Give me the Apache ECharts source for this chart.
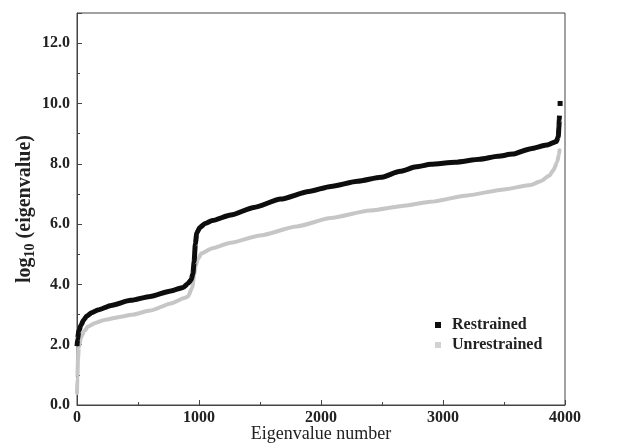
<!DOCTYPE html>
<html>
<head>
<meta charset="utf-8">
<script src="https://cdn.jsdelivr.net/npm/echarts@6/dist/echarts.min.js"></script>
<style>
html,body{margin:0;padding:0;background:#fff;}
#chart{width:641px;height:448px;}
</style>
</head>
<body>
<div id="chart"></div>
<script>
// Eigenvalue number (x) and log10(eigenvalue) (y)
const restrainedX = [0,5,15,33,55,80,120,170,280,440,600,770,870,910,935,950,960,970,982,1005,1050,1110,1260,1450,1670,1900,2080,2300,2490,2650,2780,2900,3100,3300,3450,3570,3720,3850,3930,3945,3950,3953,3955];
const restrainedY = [1.95,2.2,2.45,2.65,2.82,2.95,3.06,3.15,3.3,3.47,3.6,3.78,3.9,4.03,4.15,4.35,4.75,5.35,5.7,5.88,6.02,6.12,6.3,6.55,6.83,7.08,7.25,7.42,7.55,7.75,7.9,7.98,8.05,8.15,8.25,8.32,8.5,8.62,8.74,8.9,9.2,9.45,9.6];
const restrainedTopX = 3960;
const restrainedTopY = 10.0;

const unrestrainedX = [0,3,8,15,33,60,90,150,225,360,445,600,770,880,910,945,960,972,992,1020,1110,1260,1500,1800,2080,2400,2700,2900,3200,3500,3720,3800,3870,3905,3935,3950,3955];
const unrestrainedY = [0.4,0.9,1.5,1.9,2.25,2.45,2.6,2.72,2.82,2.93,2.99,3.13,3.37,3.55,3.6,3.9,4.3,4.6,4.85,5.03,5.2,5.38,5.62,5.92,6.2,6.45,6.62,6.74,6.95,7.15,7.3,7.42,7.6,7.79,8.05,8.3,8.45];

const seriesNames = ['Restrained','Unrestrained'];

const restrainedData = restrainedX.map((x,i)=>[x,restrainedY[i]]);
restrainedData.push(null);
restrainedData.push({value:[restrainedTopX,restrainedTopY], symbol:'rect', symbolSize:[5,5]});
const unrestrainedData = unrestrainedX.map((x,i)=>[x,unrestrainedY[i]]);

const FONT = '"Liberation Serif", "DejaVu Serif", serif';
const chart = echarts.init(document.getElementById('chart'), null, {renderer:'canvas'});
chart.setOption({
  animation:false,
  backgroundColor:'#fff',
  grid:{left:77,right:76,top:13,bottom:43,outerBoundsMode:'none',containLabel:false,
    show:true,borderColor:'#444',borderWidth:1,backgroundColor:'transparent'},
  legend:{
    data:seriesNames,
    orient:'vertical',
    left:430, top:312,
    icon:'rect', itemWidth:6, itemHeight:6, itemGap:4,
    textStyle:{fontFamily:FONT,fontSize:16,fontWeight:'bold',color:'#222',padding:[0,0,0,6]}
  },
  xAxis:{
    type:'value', min:0, max:4000, interval:1000,
    name:'Eigenvalue number', nameLocation:'middle', nameGap:20, nameMoveOverlap:false,
    nameTextStyle:{fontFamily:FONT,fontSize:18,color:'#222'},
    axisLine:{show:true,lineStyle:{color:'#444',width:1}},
    axisTick:{show:true,inside:true,length:5,lineStyle:{color:'#444'}},
    minorTick:{show:true,splitNumber:2,length:3,lineStyle:{color:'#444'}},
    axisLabel:{fontFamily:FONT,fontSize:16,fontWeight:'bold',color:'#222',margin:5,
      formatter:v=>String(v)},
    splitLine:{show:false}
  },
  yAxis:{
    type:'value', min:0, max:13, interval:2,
    name:'{a|log}{sub|10}{a| (eigenvalue)}', nameLocation:'middle', nameGap:40, nameRotate:90, nameMoveOverlap:false,
    nameTextStyle:{fontFamily:FONT,fontSize:20,fontWeight:'bold',color:'#222',
      rich:{
        a:{fontFamily:FONT,fontSize:20,fontWeight:'bold',color:'#222',lineHeight:22,verticalAlign:'top'},
        sub:{fontFamily:FONT,fontSize:14,fontWeight:'bold',color:'#222',lineHeight:14,verticalAlign:'bottom',padding:[14,0,0,0]}
      }},
    axisLine:{show:true,lineStyle:{color:'#444',width:1}},
    axisTick:{show:true,inside:true,length:5,lineStyle:{color:'#444'}},
    minorTick:{show:true,splitNumber:2,length:3,lineStyle:{color:'#444'}},
    axisLabel:{fontFamily:FONT,fontSize:16,fontWeight:'bold',color:'#222',margin:7,showMaxLabel:false,
      formatter:v=>v.toFixed(1)},
    splitLine:{show:false}
  },
  series:[
    {
      name:'Unrestrained', type:'line', data:unrestrainedData,
      showSymbol:false, symbol:'none', smooth:0.2, smoothMonotone:'x',
      lineStyle:{color:'#c6c6c6',width:4,join:'round',cap:'round'},
      itemStyle:{color:'#d2d2d2'}, z:2
    },
    {
      name:'Restrained', type:'line', data:restrainedData,
      symbol:'none', showSymbol:true, showAllSymbol:true, connectNulls:false,
      smooth:0.2, smoothMonotone:'x',
      lineStyle:{color:'#0d0d0d',width:5,join:'round',cap:'butt'},
      itemStyle:{color:'#0d0d0d'}, z:3
    }
  ]
});
</script>
</body>
</html>
